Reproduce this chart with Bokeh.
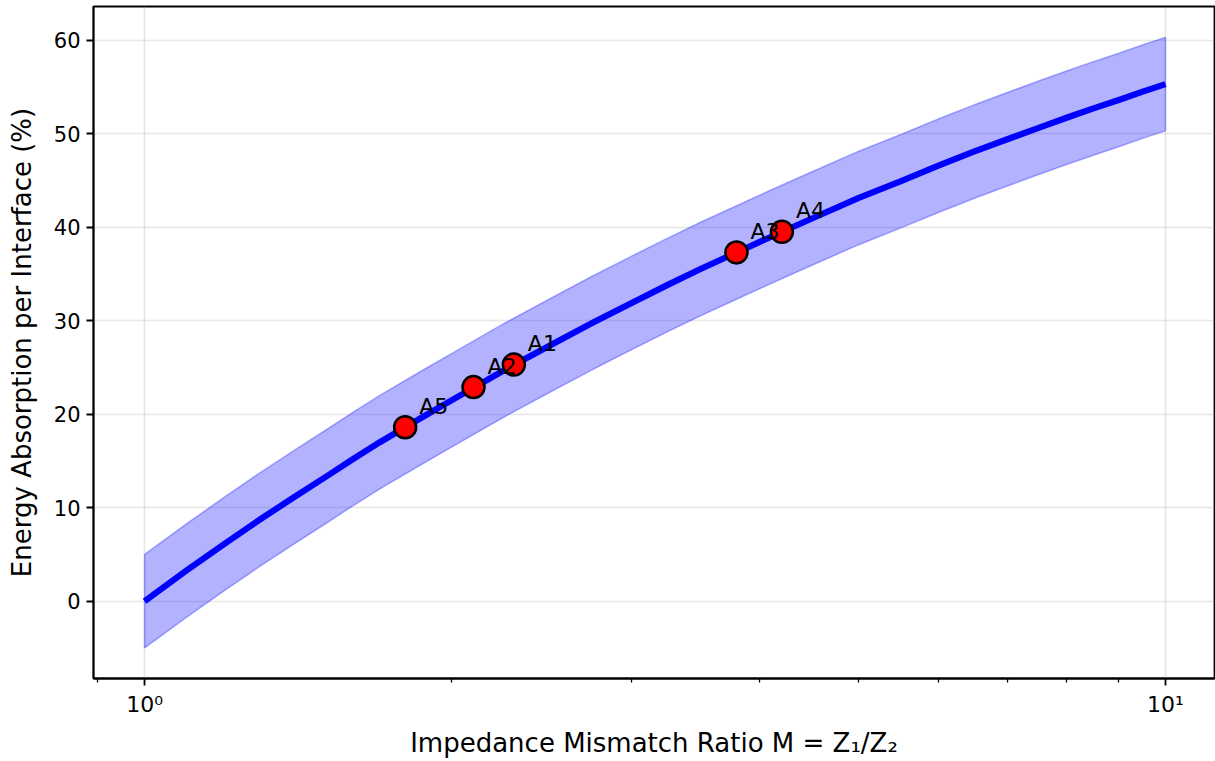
from bokeh.plotting import figure
from bokeh.models import Range1d, FixedTicker, ColumnDataSource
from bokeh.core.properties import value
from bokeh.embed import file_html
from bokeh.resources import INLINE

# Absorption curve sampled along the mismatch ratio
curve_m = [1.0, 1.1, 1.2, 1.3, 1.4, 1.5, 1.6, 1.7, 1.8, 1.9, 2.0, 2.25, 2.5, 2.75, 3.0,
           3.25, 3.5, 3.75, 4.0, 4.25, 4.5, 5.0, 5.5, 6.0, 6.5, 7.0, 7.5, 8.0, 8.5, 9.0, 9.5, 10.0]
curve_abs = [0.0, 3.3, 6.2, 8.8, 11.1, 13.2, 15.2, 17.0, 18.6, 20.1, 21.5, 24.7, 27.4, 29.8, 31.9,
             33.8, 35.5, 37.0, 38.4, 39.7, 40.9, 43.1, 44.9, 46.6, 48.1, 49.4, 50.6, 51.7, 52.7, 53.6, 54.5, 55.3]
band_upper = [5.0, 8.3, 11.2, 13.8, 16.1, 18.2, 20.2, 22.0, 23.6, 25.1, 26.5, 29.7, 32.4, 34.8, 36.9,
              38.8, 40.5, 42.0, 43.4, 44.7, 45.9, 48.1, 49.9, 51.6, 53.1, 54.4, 55.6, 56.7, 57.7, 58.6, 59.5, 60.3]
band_lower = [-5.0, -1.7, 1.2, 3.8, 6.1, 8.2, 10.2, 12.0, 13.6, 15.1, 16.5, 19.7, 22.4, 24.8, 26.9,
              28.8, 30.5, 32.0, 33.4, 34.7, 35.9, 38.1, 39.9, 41.6, 43.1, 44.4, 45.6, 46.7, 47.7, 48.6, 49.5, 50.3]

# Measured interfaces
iface_names = ["A1", "A2", "A3", "A4", "A5"]
iface_m = [2.30, 2.10, 3.80, 4.21, 1.80]
iface_abs = [25.3, 22.9, 37.3, 39.5, 18.6]

x_major = [1, 10]
x_major_labels = {1: "10\u2070", 10: "10\u00b9"}
x_minor = [0.9, 2, 3, 4, 5, 6, 7, 8, 9]
y_major = [0, 10, 20, 30, 40, 50, 60]

FONT = "DejaVu Sans"

p = figure(
    width=1215, height=761,
    frame_width=1121, frame_height=672,
    min_border_left=93, min_border_right=1, min_border_top=6, min_border_bottom=83,
    x_axis_type="log",
    x_range=Range1d(10 ** -0.05, 10 ** 1.048),
    y_range=Range1d(-8.27, 63.6),
    output_backend="svg", toolbar_location=None,
)
p.background_fill_color = "white"
p.border_fill_color = "white"
p.outline_line_color = "black"
p.outline_line_width = 1.8

# Uncertainty band
band_x = curve_m + curve_m[::-1]
band_y = band_upper + band_lower[::-1]
p.patch(band_x, band_y, fill_color="#0000ff", fill_alpha=0.3,
        line_color="#0000ff", line_alpha=0.3, line_width=1.5)

# Model curve
p.line(curve_m, curve_abs, line_color="#0000ff", line_width=6.2, line_join="round")

# Interface markers and labels
src = ColumnDataSource(dict(m=iface_m, a=iface_abs, name=iface_names))
p.scatter("m", "a", source=src, size=22, fill_color="#ff0000",
          line_color="black", line_width=2.5)
p.text("m", "a", text="name", source=src, x_offset=14, y_offset=-21,
       text_font=value(FONT), text_font_size="22px", text_color="black",
       text_baseline="alphabetic", text_align="left")

# Axes
p.xaxis.ticker = FixedTicker(ticks=x_major, minor_ticks=x_minor)
p.xaxis.major_label_overrides = x_major_labels
p.yaxis.ticker = FixedTicker(ticks=y_major)

p.xaxis.axis_label = "Impedance Mismatch Ratio M = Z\u2081/Z\u2082"
p.yaxis.axis_label = "Energy Absorption per Interface (%)"

for ax in (p.xaxis, p.yaxis):
    ax.axis_label_text_font = FONT
    ax.axis_label_text_font_size = "26px"
    ax.axis_label_text_font_style = "normal"
    ax.axis_label_text_color = "black"
    ax.major_label_text_font = FONT
    ax.major_label_text_font_size = "21px"
    ax.major_label_text_color = "black"
    ax.axis_line_color = "black"
    ax.axis_line_width = 1.8
    ax.major_tick_line_color = "black"
    ax.major_tick_line_width = 1.8
    ax.major_tick_out = 7
    ax.major_tick_in = 0
    ax.minor_tick_line_color = "black"
    ax.minor_tick_line_width = 1.3
    ax.minor_tick_out = 4
    ax.minor_tick_in = 0
    ax.major_label_standoff = 6

p.xaxis.major_label_text_font_size = "22px"
p.xaxis.axis_label_standoff = 8
p.yaxis.axis_label_standoff = 14

p.grid.grid_line_color = "#b0b0b0"
p.grid.grid_line_alpha = 0.3
p.grid.grid_line_width = 1.6
p.xgrid.ticker = FixedTicker(ticks=x_major)
p.ygrid.ticker = FixedTicker(ticks=y_major)

open("out.html", "w").write(file_html(p, INLINE))
